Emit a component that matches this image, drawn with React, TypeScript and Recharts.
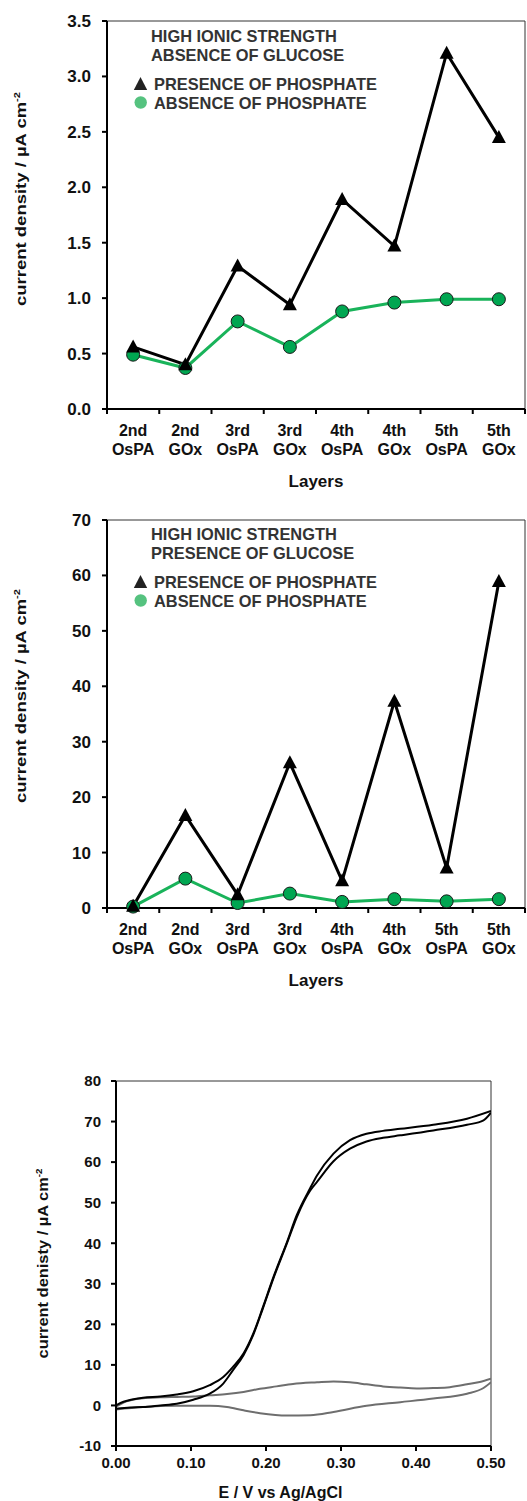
import React from "react";
import {
  LineChart,
  Line,
  XAxis,
  YAxis,
  ReferenceLine,
  Label,
  Customized,
} from "recharts";

const FONT = "'Liberation Sans', Arial, Helvetica, sans-serif";

// x categories for the two layer charts
const layers = [
  "2nd OsPA",
  "2nd GOx",
  "3rd OsPA",
  "3rd GOx",
  "4th OsPA",
  "4th GOx",
  "5th OsPA",
  "5th GOx",
];
const seriesNames = ["PRESENCE OF PHOSPHATE", "ABSENCE OF PHOSPHATE"];

// panel 1: high ionic strength, no glucose
const titleNoGlucose = ["HIGH IONIC STRENGTH", "ABSENCE OF GLUCOSE"];
const noGlucoseWithPhosphate = [0.56, 0.4, 1.29, 0.94, 1.89, 1.47, 3.21, 2.45];
const noGlucoseNoPhosphate = [0.49, 0.37, 0.79, 0.56, 0.88, 0.96, 0.99, 0.99];
const ticksNoGlucose = [0, 0.5, 1, 1.5, 2, 2.5, 3, 3.5];

// panel 2: high ionic strength, glucose
const titleGlucose = ["HIGH IONIC STRENGTH", "PRESENCE OF GLUCOSE"];
const glucoseWithPhosphate = [0.3, 16.7, 2.4, 26.2, 4.9, 37.3, 7.2, 58.9];
const glucoseNoPhosphate = [0.25, 5.3, 0.9, 2.6, 1.1, 1.6, 1.2, 1.6];
const ticksGlucose = [0, 10, 20, 30, 40, 50, 60, 70];

// band edges (tick marks sit between the categories)
const bandEdges = [0, 1, 2, 3, 4, 5, 6, 7, 8];

// panel 3: cyclic voltammograms [E (V), j (uA cm-2)]
const cvTicksE = [0, 0.1, 0.2, 0.3, 0.4, 0.5];
const cvTicksJ = [-10, 0, 10, 20, 30, 40, 50, 60, 70, 80];
const glucoseOuter: [number, number][] = [
  [0, 0], [0.01, 0.9], [0.02, 1.4], [0.036, 1.9], [0.059, 2.2], [0.081, 2.7],
  [0.103, 3.5], [0.125, 5.0], [0.143, 7.0], [0.156, 9.5], [0.17, 12.8],
  [0.183, 17.7], [0.196, 24.3], [0.21, 31.7], [0.228, 40.3], [0.241, 46.9],
  [0.259, 53.6], [0.268, 56.7], [0.29, 62.1], [0.312, 65.4], [0.334, 67.0],
  [0.356, 67.7], [0.379, 68.2], [0.423, 69.2], [0.468, 70.7], [0.5, 72.6],
];
const glucoseInner: [number, number][] = [
  [0, -0.8], [0.019, -0.5], [0.036, -0.4], [0.059, 0], [0.081, 0.4],
  [0.103, 1.4], [0.125, 2.9], [0.143, 5.4], [0.156, 8.7], [0.17, 12.4],
  [0.183, 17.4], [0.196, 24.0], [0.21, 31.4], [0.228, 40.0], [0.241, 46.4],
  [0.259, 53.0], [0.268, 55.1], [0.29, 60.2], [0.312, 63.3], [0.334, 65.1],
  [0.356, 66.0], [0.379, 66.6], [0.423, 67.8], [0.468, 69.2], [0.49, 70.3],
  [0.5, 72.2],
];
const blankUpper: [number, number][] = [
  [0, -0.3], [0.014, 1.0], [0.036, 1.8], [0.059, 2.0], [0.081, 2.1],
  [0.103, 2.2], [0.125, 2.5], [0.148, 2.8], [0.17, 3.3], [0.192, 4.1],
  [0.214, 4.7], [0.236, 5.3], [0.268, 5.7], [0.29, 5.9], [0.312, 5.7],
  [0.334, 5.2], [0.356, 4.7], [0.379, 4.4], [0.401, 4.2], [0.423, 4.3],
  [0.445, 4.5], [0.468, 5.2], [0.485, 5.8], [0.5, 6.6],
];
const blankLower: [number, number][] = [
  [0, -1.0], [0.036, -0.4], [0.081, -0.1], [0.125, -0.1], [0.148, -0.4],
  [0.17, -1.2], [0.192, -1.9], [0.228, -2.5], [0.259, -2.4], [0.29, -1.6],
  [0.334, -0.1], [0.379, 0.8], [0.423, 1.7], [0.468, 2.9], [0.49, 4.3],
  [0.5, 5.7],
];

const GREEN = "#00a651";
const GREEN_LINE = "#19b35a";
const LEGEND_GREEN = "#55c27f";

const PLOT_LEFT = 107;
const PLOT_RIGHT = 525;
const HALF_BAND = (PLOT_RIGHT - PLOT_LEFT) / layers.length / 2;

const toPoints = (pairs: [number, number][]) => pairs.map(([E, j]) => ({ E, j }));

function layerData(withP: number[], noP: number[]) {
  return layers.map((name, i) => ({
    x: i + 0.5,
    name,
    withP: withP[i],
    noP: noP[i],
  }));
}

function LayerTick(props: any) {
  const { x, y, payload } = props;
  const i = payload.value;
  if (i >= layers.length) return <g />;
  const [nth, kind] = layers[i].split(" ");
  const cx = x + HALF_BAND;
  return (
    <text
      x={cx}
      y={y}
      textAnchor="middle"
      fontFamily={FONT}
      fontWeight={700}
      fontSize={16}
      fill="#111"
    >
      <tspan x={cx} dy={20}>{nth}</tspan>
      <tspan x={cx} dy={19}>{kind}</tspan>
    </text>
  );
}

function Triangle(props: any) {
  const { cx, cy, index } = props;
  if (cx == null || cy == null) return <g key={index} />;
  return (
    <polygon
      key={index}
      points={`${cx},${cy - 7.5} ${cx - 7},${cy + 5.5} ${cx + 7},${cy + 5.5}`}
      fill="#000"
    />
  );
}

function YTitle({ x, y, size, length, text }: any) {
  return (
    <text
      x={x}
      y={y}
      transform={`rotate(-90, ${x}, ${y})`}
      textAnchor="middle"
      fontFamily={FONT}
      fontWeight={700}
      fontSize={size}
      fill="#111"
      textLength={length}
      lengthAdjust="spacingAndGlyphs"
    >
      {text}
      <tspan dy={-6} fontSize={size * 0.6}>-2</tspan>
    </text>
  );
}

function NoteBlock({ title, top }: { title: string[]; top: number }) {
  return (
    <g fontFamily={FONT} fontWeight={700} fontSize={16.4} fill="#333">
      <text x={151} y={top}>{title[0]}</text>
      <text x={151} y={top + 18.5}>{title[1]}</text>
      <polygon
        points={`140.5,${top + 35} 133.8,${top + 48} 147.2,${top + 48}`}
        fill="#222"
      />
      <text x={154} y={top + 48}>{seriesNames[0]}</text>
      <circle cx={140.7} cy={top + 60.5} r={6.2} fill={LEGEND_GREEN} />
      <text x={154} y={top + 66.6}>{seriesNames[1]}</text>
    </g>
  );
}

function LayerChart({
  withP,
  noP,
  ticks,
  title,
  top,
  axisHeight,
  labelTop,
  yTitleShift,
  fmt,
}: any) {
  const data = layerData(withP, noP);
  const yMax = ticks[ticks.length - 1];
  return (
    <LineChart
      width={527}
      height={500}
      data={data}
      margin={{ top, right: 527 - PLOT_RIGHT, bottom: 0, left: 0 }}
    >
      <XAxis
        type="number"
        dataKey="x"
        domain={[0, layers.length]}
        ticks={bandEdges}
        interval={0}
        height={axisHeight}
        tick={<LayerTick />}
        tickSize={5}
        tickLine={{ stroke: "#000", strokeWidth: 2 }}
        axisLine={{ stroke: "#000", strokeWidth: 2 }}
      >
        <Label
          content={(p: any) => {
            const vb = p.viewBox || { x: PLOT_LEFT, y: 0, width: PLOT_RIGHT - PLOT_LEFT };
            return (
              <text
                x={vb.x + vb.width / 2}
                y={vb.y + 78}
                textAnchor="middle"
                fontFamily={FONT}
                fontWeight={700}
                fontSize={17}
                fill="#111"
              >
                Layers
              </text>
            );
          }}
        />
      </XAxis>
      <YAxis
        width={PLOT_LEFT}
        domain={[0, yMax]}
        ticks={ticks}
        interval={0}
        tickFormatter={fmt}
        tick={{ fill: "#111", fontSize: 17, fontWeight: 700, fontFamily: FONT }}
        tickSize={5}
        tickMargin={11}
        tickLine={{ stroke: "#000", strokeWidth: 2 }}
        axisLine={{ stroke: "#000", strokeWidth: 2 }}
      >
        <Label
          content={(p: any) => {
            const vb = p.viewBox || { y: top, height: 388 };
            return (
              <YTitle
                x={26}
                y={vb.y + vb.height / 2 + yTitleShift}
                size={15}
                length={214}
                text="current density / µA cm"
              />
            );
          }}
        />
      </YAxis>
      <ReferenceLine y={yMax} stroke="#333" strokeWidth={1} />
      <ReferenceLine x={layers.length} stroke="#333" strokeWidth={1} />
      <Line
        type="linear"
        dataKey="noP"
        stroke={GREEN_LINE}
        strokeWidth={3}
        dot={{ r: 6.5, fill: GREEN, stroke: "#1a1a1a", strokeWidth: 1 }}
        activeDot={false}
        isAnimationActive={false}
      />
      <Line
        type="linear"
        dataKey="withP"
        stroke="#000"
        strokeWidth={3}
        dot={(p: any) => <Triangle {...p} key={p.index} />}
        activeDot={false}
        isAnimationActive={false}
      />
      <Customized component={() => <NoteBlock title={title} top={labelTop} />} />
    </LineChart>
  );
}

function CvChart() {
  return (
    <LineChart width={527} height={501} margin={{ top: 81, right: 36, bottom: 0, left: 0 }}>
      <XAxis
        type="number"
        dataKey="E"
        domain={[0, 0.5]}
        ticks={cvTicksE}
        interval={0}
        allowDataOverflow
        height={55}
        tickFormatter={(v: number) => v.toFixed(2)}
        tick={{ fill: "#111", fontSize: 15, fontWeight: 700, fontFamily: FONT }}
        tickSize={5}
        tickMargin={6}
        tickLine={{ stroke: "#000", strokeWidth: 2 }}
        axisLine={{ stroke: "#000", strokeWidth: 2 }}
      >
        <Label
          content={(p: any) => {
            const vb = p.viewBox || { x: 116, y: 446, width: 375 };
            return (
              <text
                x={vb.x + vb.width / 2 - 23}
                y={vb.y + 52}
                textAnchor="middle"
                fontFamily={FONT}
                fontWeight={700}
                fontSize={16}
                fill="#111"
              >
                E / V vs Ag/AgCl
              </text>
            );
          }}
        />
      </XAxis>
      <YAxis
        type="number"
        width={116}
        domain={[-10, 80]}
        ticks={cvTicksJ}
        interval={0}
        allowDataOverflow
        tick={{ fill: "#111", fontSize: 15, fontWeight: 700, fontFamily: FONT }}
        tickSize={5}
        tickMargin={10}
        tickLine={{ stroke: "#000", strokeWidth: 2 }}
        axisLine={{ stroke: "#000", strokeWidth: 2 }}
      >
        <Label
          content={(p: any) => {
            const vb = p.viewBox || { y: 81, height: 365 };
            return (
              <YTitle
                x={48}
                y={vb.y + vb.height / 2}
                size={14}
                length={190}
                text="current denisty / µA cm"
              />
            );
          }}
        />
      </YAxis>
      <ReferenceLine y={80} stroke="#333" strokeWidth={1} />
      <ReferenceLine x={0.5} stroke="#333" strokeWidth={1} />
      <Line data={toPoints(blankUpper)} dataKey="j" type="monotone" stroke="#6e6e6e" strokeWidth={2} dot={false} activeDot={false} isAnimationActive={false} />
      <Line data={toPoints(blankLower)} dataKey="j" type="monotone" stroke="#6e6e6e" strokeWidth={2} dot={false} activeDot={false} isAnimationActive={false} />
      <Line data={toPoints(glucoseOuter)} dataKey="j" type="monotone" stroke="#000" strokeWidth={2} dot={false} activeDot={false} isAnimationActive={false} />
      <Line data={toPoints(glucoseInner)} dataKey="j" type="monotone" stroke="#000" strokeWidth={2} dot={false} activeDot={false} isAnimationActive={false} />
    </LineChart>
  );
}

export default function App() {
  return (
    <div
      style={{
        position: "absolute",
        left: 0,
        top: 0,
        width: 527,
        height: 1501,
        background: "#fff",
        fontFamily: FONT,
      }}
    >
      <div style={{ position: "absolute", left: 0, top: 0 }}>
        <LayerChart
          withP={noGlucoseWithPhosphate}
          noP={noGlucoseNoPhosphate}
          ticks={ticksNoGlucose}
          title={titleNoGlucose}
          top={21}
          axisHeight={91}
          labelTop={42}
          yTitleShift={-16}
          fmt={(v: number) => v.toFixed(1)}
        />
      </div>
      <div style={{ position: "absolute", left: 0, top: 500 }}>
        <LayerChart
          withP={glucoseWithPhosphate}
          noP={glucoseNoPhosphate}
          ticks={ticksGlucose}
          title={titleGlucose}
          top={20}
          axisHeight={92}
          labelTop={40}
          yTitleShift={-18}
          fmt={(v: number) => String(v)}
        />
      </div>
      <div style={{ position: "absolute", left: 0, top: 1000 }}>
        <CvChart />
      </div>
    </div>
  );
}
